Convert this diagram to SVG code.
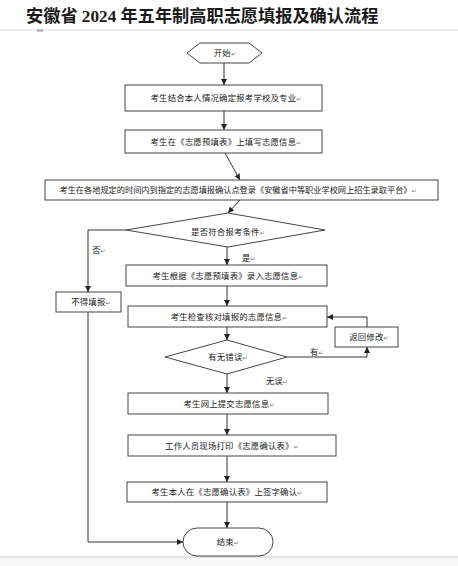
<svg xmlns="http://www.w3.org/2000/svg" width="458" height="566" viewBox="0 0 458 566">
<defs>
<marker id="ah" viewBox="0 0 10 10" refX="10" refY="5" markerWidth="6" markerHeight="6" markerUnits="userSpaceOnUse" orient="auto">
<path d="M0,0 L10,5 L0,10 z" fill="#222"/>
</marker>
<style>
.shape{fill:#fff;stroke:#444;stroke-width:1}
.t{font-family:"Noto Sans CJK SC","DejaVu Sans",sans-serif;font-size:8.4px;fill:#222;text-anchor:middle;letter-spacing:0.2px}
.r{font-size:6px;fill:#777}
.c{fill:none;stroke:#333;stroke-width:1}
.lbl{font-family:"Noto Sans CJK SC","DejaVu Sans",sans-serif;font-size:8.4px;fill:#222}
</style>
</defs>
<rect width="458" height="566" fill="#fff"/>
<text x="26" y="22" font-family="'Liberation Serif','Noto Sans CJK SC',serif" font-weight="bold" font-size="17.2" fill="#1a1a1a">安徽省 2024 年五年制高职志愿填报及确认流程</text>
<line x1="0" y1="30" x2="458" y2="30" stroke="#e6e6e6" stroke-width="1.5"/>
<rect x="37" y="29.5" width="6" height="2" fill="#aaa"/>
<line x1="0" y1="557" x2="458" y2="557" stroke="#ddd" stroke-width="1.5"/>
<rect x="0" y="558" width="458" height="8" fill="#f7f7f7"/>

<g id="start"><polygon class="shape" points="187,53 200,43 249,43 262,53 249,63 200,63"/><text class="t" x="225" y="56">开始<tspan class="r">↵</tspan></text></g>
<g id="n1"><rect class="shape" x="125" y="85" width="197" height="26"/><text class="t" x="226" y="101">考生结合本人情况确定报考学校及专业<tspan class="r">↵</tspan></text></g>
<g id="n2"><rect class="shape" x="125" y="130" width="197" height="23"/><text class="t" x="226" y="144.5">考生在《志愿预填表》上填写志愿信息<tspan class="r">↵</tspan></text></g>
<g id="n3"><rect class="shape" x="45" y="180" width="393" height="20"/><text class="t" x="238" y="193" style="letter-spacing:0;font-size:8.2px">考生在各地规定的时间内到指定的志愿填报确认点登录《安徽省中等职业学校网上招生录取平台》<tspan class="r">↵</tspan></text></g>
<g id="d1"><polygon class="shape" points="228,213 325,230 228,247 126,230"/><text class="t" x="228" y="235">是否符合报考条件<tspan class="r">↵</tspan></text></g>
<g id="n4"><rect class="shape" x="126" y="265" width="201" height="21"/><text class="t" x="228" y="278.5">考生根据《志愿预填表》录入志愿信息<tspan class="r">↵</tspan></text></g>
<g id="nofill"><rect class="shape" x="56" y="292" width="65" height="20"/><text class="t" x="91" y="305">不得填报<tspan class="r">↵</tspan></text></g>
<g id="n5"><rect class="shape" x="128" y="306" width="199" height="21"/><text class="t" x="229" y="319.5">考生检查核对填报的志愿信息<tspan class="r">↵</tspan></text></g>
<g id="ret"><rect class="shape" x="335" y="327" width="63" height="20"/><text class="t" x="369" y="340">返回修改<tspan class="r">↵</tspan></text></g>
<g id="d2"><polygon class="shape" points="227,340 287,357 227,374 165,357"/><text class="t" x="228" y="360">有无错误<tspan class="r">↵</tspan></text></g>
<g id="n6"><rect class="shape" x="128" y="393" width="200" height="21"/><text class="t" x="229" y="406.5">考生网上提交志愿信息<tspan class="r">↵</tspan></text></g>
<g id="n7"><rect class="shape" x="128" y="435" width="208" height="21"/><text class="t" x="232" y="448.5">工作人员现场打印《志愿确认表》<tspan class="r">↵</tspan></text></g>
<g id="n8"><rect class="shape" x="127" y="482" width="200" height="20"/><text class="t" x="227" y="495">考生本人在《志愿确认表》上签字确认<tspan class="r">↵</tspan></text></g>
<g id="end"><rect class="shape" x="183" y="528" width="90" height="28" rx="14" ry="14"/><text class="t" x="228" y="545">结束<tspan class="r">↵</tspan></text></g>

<g id="connectors">
<path class="c" d="M224,63 V85" marker-end="url(#ah)"/>
<path class="c" d="M224,111 V130" marker-end="url(#ah)"/>
<path class="c" d="M225,153 L240,180" marker-end="url(#ah)"/>
<path class="c" d="M240,200 L228,213" marker-end="url(#ah)"/>
<path class="c" d="M227,247 V265" marker-end="url(#ah)"/>
<path class="c" d="M126,230 H88 V292" marker-end="url(#ah)"/>
<path class="c" d="M227,286 V306" marker-end="url(#ah)"/>
<path class="c" d="M227,327 V340" marker-end="url(#ah)"/>
<path class="c" d="M287,357 H367 V347" marker-end="url(#ah)"/>
<path class="c" d="M367,327 V317 H327" marker-end="url(#ah)"/>
<path class="c" d="M227,374 V393" marker-end="url(#ah)"/>
<path class="c" d="M227,414 V435" marker-end="url(#ah)"/>
<path class="c" d="M227,456 V482" marker-end="url(#ah)"/>
<path class="c" d="M227,502 V528" marker-end="url(#ah)"/>
<path class="c" d="M88,312 V542 H183" marker-end="url(#ah)"/>
<text class="lbl" x="242" y="261">是<tspan class="r">↵</tspan></text>
<text class="lbl" x="92" y="253">否<tspan class="r">↵</tspan></text>
<text class="lbl" x="310" y="355">有<tspan class="r">↵</tspan></text>
<text class="lbl" x="266" y="384">无误<tspan class="r">↵</tspan></text>
</g>
</svg>
